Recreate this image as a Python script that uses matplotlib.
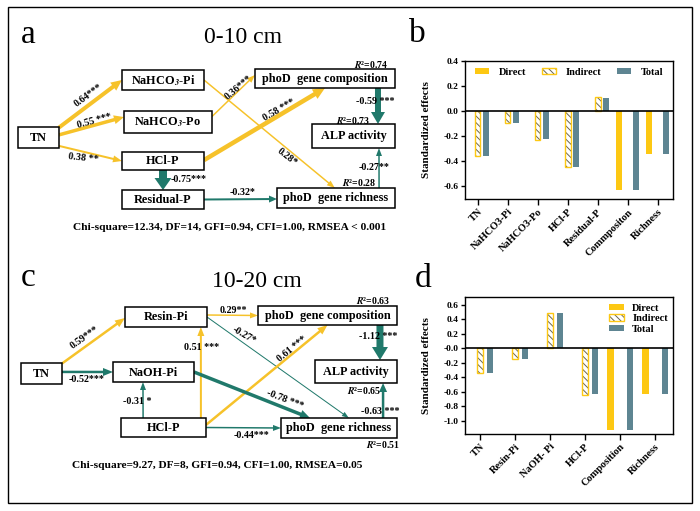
import numpy as np
import matplotlib
matplotlib.use("Agg")
import matplotlib.pyplot as plt
from matplotlib.patches import Rectangle, Patch, FancyArrow
from matplotlib.legend_handler import HandlerTuple

plt.rcParams['font.family'] = ['Liberation Serif', 'DejaVu Serif']
plt.rcParams['mathtext.fontset'] = 'stix'
plt.rcParams['axes.unicode_minus'] = False
plt.rcParams['hatch.linewidth'] = 0.7

YELLOW = '#F6C22A'
TEAL = '#20796B'
BAR_Y = '#FDC813'
BAR_G = '#5E8592'
HATCH_C = '#6A6650'

# ---------------- data ----------------
cats_b = ["TN", "NaHCO3-Pi", "NaHCO3-Po", "HCl-P", "Residual-P", "Commpositon", "Richness"]
direct_b = [np.nan, np.nan, np.nan, np.nan, np.nan, -0.632, -0.341]
indirect_b = [-0.360, -0.093, -0.227, -0.448, 0.115, np.nan, np.nan]
total_b = [-0.355, -0.093, -0.221, -0.445, 0.109, -0.632, -0.341]

cats_d = ["TN", "Resin-Pi", "NaOH- Pi", "HCl-P", "Composition", "Richness"]
direct_d = [np.nan, np.nan, np.nan, np.nan, -1.12, -0.627]
indirect_d = [-0.340, -0.152, 0.493, -0.636, np.nan, np.nan]
total_d = [-0.336, -0.143, 0.493, -0.631, -1.12, -0.627]

# path model a (0-10 cm)
paths_a = [("TN", "Pi"), ("TN", "Po"), ("TN", "HCl"), ("HCl", "Comp"), ("Po", "Comp"),
           ("Pi", "Rich"), ("HCl", "Res"), ("Res", "Rich"), ("Comp", "ALP"), ("Rich", "ALP")]
coef_a = [0.64, 0.55, 0.38, 0.58, 0.36, 0.28, -0.75, -0.32, -0.59, -0.27]
sig_a = ['***', ' ***', ' **', ' ***', '***', '*', '***', '*', ' ***', '**']
r2_a = {"Comp": 0.74, "ALP": 0.73, "Rich": 0.28}
fit_a = "Chi-square=12.34, DF=14, GFI=0.94, CFI=1.00, RMSEA < 0.001"

# path model c (10-20 cm)
paths_c = [("TN", "Resin"), ("TN", "NaOH"), ("HCl", "NaOH"), ("HCl", "Resin"), ("Resin", "Comp"),
           ("Resin", "Rich"), ("HCl", "Comp"), ("NaOH", "Rich"), ("HCl", "Rich"),
           ("Comp", "ALP"), ("Rich", "ALP")]
coef_c = [0.59, -0.52, -0.31, 0.51, 0.29, -0.27, 0.61, -0.78, -0.44, -1.12, -0.63]
sig_c = ['***', '***', ' *', ' ***', '**', '*', ' ***', ' ***', '***', ' ***', ' ***']
r2_c = {"Comp": 0.63, "ALP": 0.65, "Rich": 0.51}
fit_c = "Chi-square=9.27, DF=8, GFI=0.94, CFI=1.00, RMSEA=0.05"

names = {"TN": "TN", "Pi": r"NaHCO$_{\mathbfit{3}}$-Pi", "Po": r"NaHCO$_{\mathbfit{3}}$-Po",
         "HCl": "HCl-P", "Res": "Residual-P", "Comp": "phoD  gene composition",
         "ALP": "ALP activity", "Rich": "phoD  gene richness", "Resin": "Resin-Pi",
         "NaOH": "NaOH-Pi"}

# ---------------- layout (pixel space) ----------------
nodes_a = {"TN": (38.5, 137.5, 41, 21), "Pi": (163, 80, 82, 20), "Po": (168, 122, 88, 22),
           "HCl": (163, 161, 82, 18), "Res": (163, 199.5, 82, 19), "Comp": (325, 78.5, 140, 19),
           "ALP": (353.5, 136, 83, 24), "Rich": (336, 198, 118, 20)}
nodes_c = {"TN": (41.5, 373.5, 41, 21), "Resin": (166, 317, 82, 20), "NaOH": (153.5, 372, 81, 20),
           "HCl": (163.5, 427.5, 85, 19), "Comp": (327.5, 315.5, 139, 19),
           "ALP": (356, 371.5, 82, 23), "Rich": (339, 428, 116, 20)}

anch_a = [(('r', -0.95), ('l', 0)), (('r', -0.25), ('l', -0.45)), (('r', 0.8), ('l', 0)),
          (('r', -0.1), ('b', 0)), (('r', -0.5), ('l', -0.37)), (('r', 0), ('t', -0.02)),
          (('b', 0), ('t', 0)), (('r', 0), ('l', 0.1)), (('b', 0.757), ('t', 0.59)),
          (('t', 0.73), ('b', 0.614))]
style_a = [(4, 10, 11), (3.5, 9, 10), (2, 7, 9), (4.5, 11, 12), (1.5, 6, 8), (1.5, 6, 8),
           (8, 17, 12), (2, 7, 8), (6, 14, 12), (1.5, 6, 8)]
lab_a = [(88.5, 95, 36), (94.5, 121, 15), (83, 158.5, -6), (279, 110, 30), (238.5, 88, 40),
         (287, 157, -38), (189, 180, 0), (243, 192.5, 0), (375.5, 102, 0), (374, 168, 0)]
r2pos_a = {"Comp": (371, 64), "ALP": (352.5, 121), "Rich": (359, 183)}

anch_c = [(('r', -0.95), ('l', 0.1)), (('r', -0.15), ('l', 0)), (('t', -0.48), ('b', -0.26)),
          (('t', 0.88), ('b', 0.85)), (('r', -0.2), ('l', 0)), (('r', 0), ('t', 0.17)),
          (('r', -0.27), ('b', 0)), (('r', 0), ('t', -0.5)), (('r', 0), ('l', 0)),
          (('b', 0.755), ('t', 0.585)), (('t', 0.76), ('b', 0.66))]
style_c = [(2.5, 8, 10), (2.5, 8, 10), (1.5, 6, 8), (2, 7, 9), (1.5, 6, 8), (1, 5, 7),
           (2.5, 8, 10), (3.5, 9, 10), (1.5, 6, 8), (7, 16, 13), (2.5, 8, 9)]
lab_c = [(85, 338, 35), (87, 380, 0), (137.5, 402, 0), (201.5, 348, 0), (233.5, 310.5, 0),
         (244, 335, -30), (292.5, 349, 39), (285, 400, -21), (251.5, 435.3, 0),
         (378, 336.7, 0), (380.5, 411.7, 0)]
r2pos_c = {"Comp": (372.5, 300.7), "ALP": (363.5, 390), "Rich": (382.5, 444)}

fig = plt.figure(figsize=(7, 5.11), dpi=100)
ov = fig.add_axes([0, 0, 1, 1])
ov.set_xlim(0, 700)
ov.set_ylim(511, 0)
ov.axis('off')

ov.add_patch(Rectangle((8, 7), 684, 496, fill=False, ec='black', lw=1.0, zorder=1))


def anchor(nodes, name, side, t):
    cx, cy, w, h = nodes[name]
    if side == 'r':
        return cx + w / 2, cy + t * h / 2
    if side == 'l':
        return cx - w / 2, cy + t * h / 2
    if side == 't':
        return cx + t * w / 2, cy - h / 2
    return cx + t * w / 2, cy + h / 2


def draw_model(nodes, paths, coefs, sigs, anchs, styles, labs, r2, r2pos, fit, fitpos):
    for name, (cx, cy, w, h) in nodes.items():
        ov.add_patch(Rectangle((cx - w / 2, cy - h / 2), w, h, fc='white', ec='black',
                               lw=1.1, zorder=3))
        ov.text(cx, cy + 0.5, names[name], ha='center', va='center', fontsize=8.8,
                fontweight='bold', zorder=4)
    for (s, d), c, sg, (a1, a2), (lw, hw, hl), (lx, ly, rot) in zip(paths, coefs, sigs, anchs, styles, labs):
        x0, y0 = anchor(nodes, s, *a1)
        x1, y1 = anchor(nodes, d, *a2)
        col = YELLOW if c > 0 else TEAL
        ov.add_patch(FancyArrow(x0, y0, x1 - x0, y1 - y0, width=lw, head_width=hw,
                                head_length=hl, length_includes_head=True, color=col,
                                lw=0, zorder=2))
        ov.text(lx, ly, f"{c:.2f}{sg}", ha='center', va='center', rotation=rot,
                rotation_mode='anchor', fontsize=7.2, fontweight='bold', zorder=5)
    for k, v in r2.items():
        x, y = r2pos[k]
        ov.text(x, y, r"$\mathbfit{R}$²" + f"={v:.2f}", ha='center', va='center',
                fontsize=7, fontweight='bold', zorder=5)
    ov.text(fitpos[0], fitpos[1], fit, ha='center', va='center', fontsize=8.2,
            fontweight='bold', zorder=5)


draw_model(nodes_a, paths_a, coef_a, sig_a, anch_a, style_a, lab_a, r2_a, r2pos_a, fit_a, (230, 228))
draw_model(nodes_c, paths_c, coef_c, sig_c, anch_c, style_c, lab_c, r2_c, r2pos_c, fit_c, (217, 465))

ov.text(243, 43, "0-10 cm", ha='center', va='baseline', fontsize=17)
ov.text(257, 287, "10-20 cm", ha='center', va='baseline', fontsize=17)
for t, x, y in [("a", 28, 43), ("b", 417, 42), ("c", 28, 286), ("d", 423, 287)]:
    ov.text(x, y, t, ha='center', va='baseline', fontsize=24)

HATCH = '\\\\\\\\\\'


def bar_panel(rect, cats, d, i, t, xlim, ylim, yticks, legend_kw):
    ax = fig.add_axes(rect)
    x = np.arange(len(cats))
    off, w = 0.28, 0.19
    ax.bar(x - off, d, w, color=BAR_Y, zorder=2)
    ax.bar(x, i, w, color='white', edgecolor=HATCH_C, hatch=HATCH, lw=0, zorder=2)
    ax.bar(x, i, w, fill=False, edgecolor=BAR_Y, lw=1.0, zorder=3)
    ax.bar(x + off, t, w, color=BAR_G, zorder=2)
    ax.axhline(0, color='black', lw=1.2, zorder=4)
    ax.set_xlim(*xlim)
    ax.set_ylim(*ylim)
    ax.set_xticks(x)
    ax.set_xticklabels(cats, rotation=45, ha='right', rotation_mode='anchor',
                       fontsize=7.5, fontweight='bold')
    ax.set_yticks(yticks)
    ax.set_yticklabels([f"{v:.1f}" for v in yticks], fontsize=6.8, fontweight='bold')
    ax.tick_params(axis='x', direction='out', length=4, width=1, pad=2)
    ax.tick_params(axis='y', direction='out', length=3, width=1, pad=1.5)
    for sp in ax.spines.values():
        sp.set_linewidth(1.0)
    ax.set_ylabel("Standardized effects", fontsize=8, fontweight='bold')
    ax.yaxis.set_label_coords(-0.163, 0.5)
    handles = [Patch(fc=BAR_Y, ec='none'),
               (Patch(fc='white', ec=HATCH_C, hatch=HATCH, lw=0),
                Patch(fill=False, ec=BAR_Y, lw=1.0)),
               Patch(fc=BAR_G, ec='none')]
    ax.legend(handles, ["Direct", "Indirect", "Total"],
              handler_map={tuple: HandlerTuple(ndivide=1, pad=0)},
              frameon=False, prop={'weight': 'bold', 'size': 7.5}, handlelength=1.4,
              handleheight=0.55, **legend_kw)
    return ax


bar_panel([465 / 700, 1 - 199 / 511, 208 / 700, 138 / 511], cats_b, direct_b, indirect_b, total_b,
          (-0.42, 6.51), (-0.7, 0.4), np.arange(-0.6, 0.41, 0.2),
          dict(loc='upper center', ncol=3, bbox_to_anchor=(0.5, 1.02), columnspacing=1.5,
               handletextpad=0.9))
bar_panel([465 / 700, 1 - 434 / 511, 208 / 700, 137 / 511], cats_d, direct_d, indirect_d, total_d,
          (-0.43, 5.51), (-1.18, 0.71), np.arange(-1.0, 0.61, 0.2),
          dict(loc='upper right', ncol=1, bbox_to_anchor=(1.02, 1.02), labelspacing=0.15,
               handletextpad=0.8))

fig.savefig("out.png", dpi=100)
